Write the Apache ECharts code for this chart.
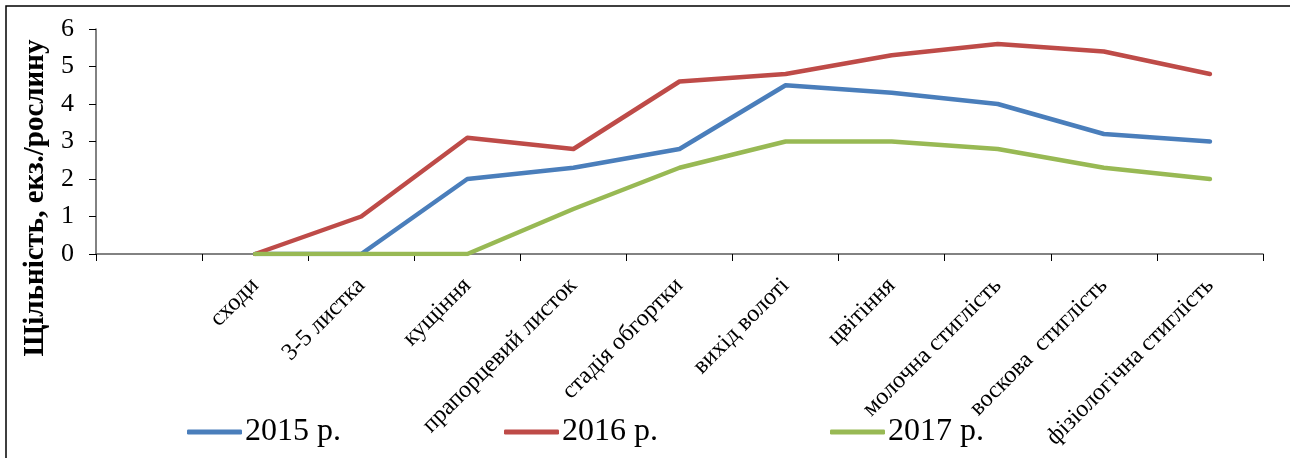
<!DOCTYPE html>
<html>
<head>
<meta charset="utf-8">
<script src="https://cdn.jsdelivr.net/npm/echarts@6/dist/echarts.min.js"></script>
<style>
  html, body { margin: 0; padding: 0; background: #fff; overflow: hidden; }
  #chart { width: 1290px; height: 458px; }
</style>
</head>
<body>
<div id="chart"></div>
<script>
// Growth stages (first slot left blank on the axis)
const stages = ['', 'сходи', '3-5 листка', 'кущіння', 'прапорцевий листок', 'стадія обгортки',
  'вихід волоті', 'цвітіння', 'молочна стиглість', 'воскова  стиглість', 'фізіологічна стиглість'];

// Density, specimens per plant
const y2015 = [null, 0, 0, 2.0, 2.3, 2.8, 4.5, 4.3, 4.0, 3.2, 3.0];
const y2016 = [null, 0, 1.0, 3.1, 2.8, 4.6, 4.8, 5.3, 5.6, 5.4, 4.8];
const y2017 = [null, 0, 0, 0, 1.2, 2.3, 3.0, 3.0, 2.8, 2.3, 2.0];

const seriesNames = ['2015 р.', '2016 р.', '2017 р.'];
const colors = ['#4A7EBB', '#BE4B48', '#98B954'];
const legendLeft = [182, 499, 825];

const font = 'Liberation Serif, Times New Roman, serif';
const axisColor = '#595959';

const chart = echarts.init(document.getElementById('chart'), null, { renderer: 'canvas' });

const mkSeries = (name, data, color) => ({
  name, type: 'line', data, symbol: 'none', showSymbol: false, smooth: false,
  connectNulls: false, color,
  lineStyle: { width: 4.5, color, cap: 'round', join: 'round' }
});

// one legend block per series so each entry sits at its own spot
const legends = seriesNames.map((name, i) => ({
  left: legendLeft[i], top: 411, itemWidth: 55, itemHeight: 5,
  icon: 'roundRect',
  textStyle: { fontFamily: font, fontSize: 32, color: '#000', padding: [0, 0, 0, -2] },
  data: [name]
}));

chart.setOption({
  animation: false,
  backgroundColor: '#fff',
  grid: { left: 96, right: 27, top: 29, bottom: 204, containLabel: false },
  xAxis: {
    type: 'category', data: stages, boundaryGap: true,
    axisLine: { lineStyle: { color: axisColor, width: 1.5 } },
    axisTick: { show: true, interval: 0, length: 7, lineStyle: { color: '#000', width: 1 } },
    axisLabel: { interval: 0, rotate: 45, color: '#000', fontFamily: font, fontSize: 24, margin: 28 }
  },
  yAxis: {
    type: 'value', min: 0, max: 6, interval: 1,
    axisLine: { show: true, lineStyle: { color: axisColor, width: 1.5 } },
    axisTick: { show: true, length: 7, lineStyle: { color: '#000', width: 1 } },
    splitLine: { show: false },
    axisLabel: { color: '#000', fontFamily: font, fontSize: 26, margin: 22 }
  },
  legend: legends,
  series: [
    mkSeries(seriesNames[0], y2015, colors[0]),
    mkSeries(seriesNames[1], y2016, colors[1]),
    mkSeries(seriesNames[2], y2017, colors[2])
  ],
  graphic: [
    {
      type: 'polyline', silent: true, z: 100,
      shape: { points: [[6, 470], [6, 6], [1300, 6]] },
      style: { fill: null, stroke: '#000', lineWidth: 1.5 }
    },
    {
      type: 'text', x: 36, y: 198, rotation: Math.PI / 2,
      style: {
        text: 'Щільність, екз./рослину', fontFamily: font, fontWeight: 'bold', fontSize: 29,
        fill: '#000', align: 'center', verticalAlign: 'middle'
      }
    }
  ]
});
</script>
</body>
</html>
